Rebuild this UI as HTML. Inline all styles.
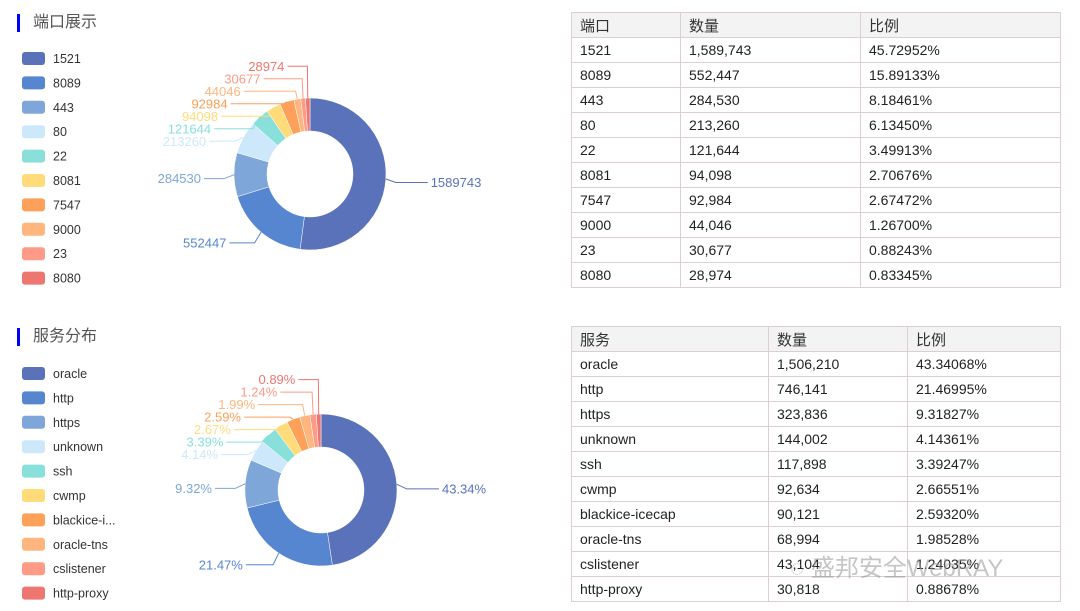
<!DOCTYPE html>
<html><head><meta charset="utf-8">
<style>
body{margin:0;width:1080px;height:611px;background:#fff;font-family:"Liberation Sans","Noto Sans CJK SC",sans-serif;position:relative;overflow:hidden}
.title{position:absolute;left:17px;font-size:16px;color:#555;padding-left:13px;border-left:3px solid #0000ff;line-height:18px;font-family:"Liberation Sans","Noto Sans CJK SC",sans-serif}
table{position:absolute;left:571px;border-collapse:collapse;font-size:14px;color:#222}
td,th{border:1px solid #dccfd0;height:24px;padding:0 8px;text-align:left;font-weight:normal}
th{background:#f3f3f3;font-size:15px;color:#333}
svg{position:absolute;left:0;top:0}
</style></head><body>
<div class="title" style="top:14px">端口展示</div>
<div class="title" style="top:328px">服务分布</div>
<svg id="chart" width="560" height="611"></svg>

<table style="top:12px;width:490px">
<colgroup><col style="width:109px"><col style="width:180px"><col style="width:200px"></colgroup>
<tr><th>端口</th><th>数量</th><th>比例</th></tr>
<tr><td>1521</td><td>1,589,743</td><td>45.72952%</td></tr>
<tr><td>8089</td><td>552,447</td><td>15.89133%</td></tr>
<tr><td>443</td><td>284,530</td><td>8.18461%</td></tr>
<tr><td>80</td><td>213,260</td><td>6.13450%</td></tr>
<tr><td>22</td><td>121,644</td><td>3.49913%</td></tr>
<tr><td>8081</td><td>94,098</td><td>2.70676%</td></tr>
<tr><td>7547</td><td>92,984</td><td>2.67472%</td></tr>
<tr><td>9000</td><td>44,046</td><td>1.26700%</td></tr>
<tr><td>23</td><td>30,677</td><td>0.88243%</td></tr>
<tr><td>8080</td><td>28,974</td><td>0.83345%</td></tr>
</table>
<table style="top:326px;width:490px">
<colgroup><col style="width:197px"><col style="width:139px"><col style="width:153px"></colgroup>
<tr><th>服务</th><th>数量</th><th>比例</th></tr>
<tr><td>oracle</td><td>1,506,210</td><td>43.34068%</td></tr>
<tr><td>http</td><td>746,141</td><td>21.46995%</td></tr>
<tr><td>https</td><td>323,836</td><td>9.31827%</td></tr>
<tr><td>unknown</td><td>144,002</td><td>4.14361%</td></tr>
<tr><td>ssh</td><td>117,898</td><td>3.39247%</td></tr>
<tr><td>cwmp</td><td>92,634</td><td>2.66551%</td></tr>
<tr><td>blackice-icecap</td><td>90,121</td><td>2.59320%</td></tr>
<tr><td>oracle-tns</td><td>68,994</td><td>1.98528%</td></tr>
<tr><td>cslistener</td><td>43,104</td><td>1.24035%</td></tr>
<tr><td>http-proxy</td><td>30,818</td><td>0.88678%</td></tr>
</table>
<div style="position:absolute;left:790px;top:548px;font-size:24px;color:rgba(150,150,150,0.55);font-family:'Liberation Sans','Noto Sans CJK SC',sans-serif">◌ 盛邦安全WebRAY</div>

<script>
const portNames=['1521','8089','443','80','22','8081','7547','9000','23','8080'];
const portValues=[1589743,552447,284530,213260,121644,94098,92984,44046,30677,28974];
const svcNames=['oracle','http','https','unknown','ssh','cwmp','blackice-i...','oracle-tns','cslistener','http-proxy'];
const svcValues=[1506210,746141,323836,144002,117898,92634,90121,68994,43104,30818];
const svcPercents=[43.34068,21.46995,9.31827,4.14361,3.39247,2.66551,2.59320,1.98528,1.24035,0.88678];
const colors=['#5a72b9','#5686d0','#7ea6d8','#cde8fb','#89e0db','#ffdb7a','#fca05a','#ffb57e','#ff9a86','#ee7670'];
const NS='http://www.w3.org/2000/svg';
const svg=document.getElementById('chart');
function mk(t,a){const e=document.createElementNS(NS,t);for(const k in a)e.setAttribute(k,a[k]);svg.appendChild(e);return e;}

function legend(names,y0,grp){
  names.forEach((n,i)=>{
    const y=y0+i*24.4;
    const r=mk('rect',{x:22,y:y,width:23,height:13,rx:3,fill:colors[i]});
    
    
    const t=mk('text',{x:53,y:y+11,'font-size':12.5,fill:'#333'});
    t.textContent=n;
    
    
  });
}

function donut(values,cx,cy,R,r,labelFn,grp){
  const total=values.reduce((a,b)=>a+b,0);
  let a0=0;const mids=[];
  values.forEach((v,i)=>{
    const a1=a0+v/total*Math.PI*2;
    const p=(ang,rad)=>[cx+rad*Math.sin(ang),cy-rad*Math.cos(ang)];
    const lg=(a1-a0)>Math.PI?1:0;
    const [x1,y1]=p(a0,R),[x2,y2]=p(a1,R),[x3,y3]=p(a1,r),[x4,y4]=p(a0,r);
    const path=mk('path',{d:`M${x1},${y1}A${R},${R} 0 ${lg} 1 ${x2},${y2}L${x3},${y3}A${r},${r} 0 ${lg} 0 ${x4},${y4}Z`,fill:colors[i],stroke:'#fff','stroke-width':0.5});
    
    
    mids.push((a0+a1)/2);a0=a1;
  });
  const L=[];
  mids.forEach((m,i)=>{
    const s=Math.sin(m),c=Math.cos(m);
    const o={i,m,sx:cx+R*s,sy:cy-R*c,right:s>=0};
    if(c<-0.3){ o.y=cy-(R+14)*c; } else { o.y=cy-(R-8)*c+(Math.abs(s)>0.9?4:0); }
    o.ex=cx+(R+10)*s;
    L.push(o);
  });
  const leftTop=L.filter(o=>!o.right && Math.cos(o.m)>0.3).sort((a,b)=>b.y-a.y);
  for(let k=1;k<leftTop.length;k++){ leftTop[k].y=leftTop[k-1].y-12.5; }
  L.forEach(o=>{
    const dy=o.y-cy;
    let tx;
    if(o.right){ tx=cx+Math.max(o.ex-cx+20,Math.sqrt(Math.max(0,118*118-dy*dy))); }
    else { tx=Math.min(o.ex-20,cx-Math.sqrt(Math.max(0,106*106-dy*dy))); }
    const col=colors[o.i];
    const ln=mk('polyline',{points:`${o.sx},${o.sy} ${o.ex},${o.y} ${tx},${o.y}`,fill:'none',stroke:col,'stroke-width':1});
    
    
    const t=mk('text',{x:o.right?tx+3:tx-3,y:o.y+4.5,'font-size':13,fill:col,'text-anchor':o.right?'start':'end'});
    t.textContent=labelFn(o.i,total);
    
    
  });
}
legend(portNames,52,'port');
legend(svcNames,367,'service');
donut(portValues,310,174,76,43,(i)=>String(portValues[i]),'port');
donut(svcValues,321,490,76,43,(i)=>svcPercents[i].toFixed(2)+'%','service');
</script>
</body></html>
